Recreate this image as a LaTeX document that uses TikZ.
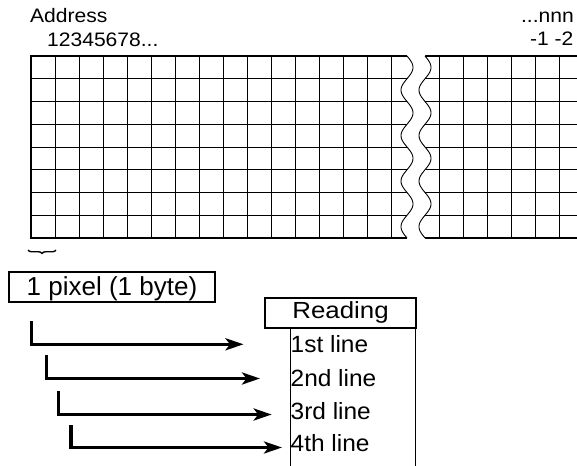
\documentclass[tikz,border=0pt]{standalone}
\usepackage{fontspec}
\setmainfont{Liberation Sans}
\newfontfamily\topfont[FakeStretch=1.08]{Liberation Sans}
\newfontfamily\rowfont[FakeStretch=1.04]{Liberation Sans}
\newfontfamily\readfont[FakeStretch=1.11]{Liberation Sans}
\usetikzlibrary{arrows.meta,decorations.pathreplacing}
\tikzset{
  thinline/.style={line width=0.9pt},
  border/.style={line width=2.4pt},
  wave/.style={line width=0.9pt},
  toplabel/.style={inner sep=0pt, font=\topfont\fontsize{19.5}{22}\selectfont},
  rowlabel/.style={inner sep=0pt, anchor=base west, font=\rowfont\fontsize{23.5}{27}\selectfont},
  framebox/.style={draw, line width=2pt, inner sep=0pt, anchor=base},
  flow/.style={line width=3.3pt, -{Stealth[length=18pt,width=12pt,inset=4.5pt]}},
}
\begin{document}
\begin{tikzpicture}[x=1pt,y=-1pt]
\useasboundingbox (0,0) rectangle (577,465);
\begin{scope}
\clip (0,0) rectangle (577,465);
% grid
\foreach \k in {1,...,22} {
  \draw[thinline] ({31+24*\k},56) -- ({31+24*\k},238);
}
\foreach \k in {1,...,7} {
  \draw[thinline] (31,{56+22.75*\k}) -- (577,{56+22.75*\k});
}
\draw[border] (577,56) -- (31,56) -- (31,238) -- (577,238);
% break gap
\fill[white] (407,48) -- plot[domain=56:238, samples=120, variable=\t] ({407+6*sin((\t-56)*7.912)},\t)
  -- (407,246) -- (425,246)
  -- plot[domain=238:56, samples=120, variable=\t] ({425+6*sin((\t-56)*7.912)},\t)
  -- (425,48) -- cycle;
\draw[wave] plot[domain=56:238, samples=120, variable=\t] ({407+6*sin((\t-56)*7.912)},\t);
\draw[wave] plot[domain=56:238, samples=120, variable=\t] ({425+6*sin((\t-56)*7.912)},\t);
\end{scope}
% top labels
\node[toplabel, anchor=base west] (addr) at (30,23) {Address};
\node[toplabel, anchor=base west] (nums) at (47,46.5) {12345678...};
\node[toplabel, anchor=base east] (nnn) at (574,23) {...nnn};
\node[toplabel, anchor=base east] (neg) at (573.5,46) {-1 -2};
% brace
\coordinate (br1) at (56,250);
\coordinate (br2) at (28,250);
\draw[line width=1.4pt, decorate, decoration={brace, amplitude=3.5pt}] (br1) -- (br2);
% pixel box
\node[framebox, minimum width=206pt, text height=23.5pt, text depth=6.5pt,
      font=\fontsize{26}{30}\selectfont] (pix) at (112,295.7) {1 pixel (1 byte)};
% reading box
\node[framebox, minimum width=151pt, text height=20.3pt, text depth=9.7pt,
      font=\readfont\fontsize{23.3}{27}\selectfont] (read) at (340.5,318.3) {Reading};
\coordinate (tl1) at (290.7,328);
\coordinate (tl2) at (290.7,466);
\coordinate (tr1) at (415.5,328);
\coordinate (tr2) at (415.5,466);
\draw[line width=1pt] (tl1) -- (tl2);
\draw[line width=1pt] (tr1) -- (tr2);
% row labels
\node[rowlabel] (r1) at (290.5,352) {1st line};
\node[rowlabel] (r2) at (290.5,386) {2nd line};
\node[rowlabel] (r3) at (290.5,419.5) {3rd line};
\node[rowlabel] (r4) at (290.5,451) {4th line};
% arrows
\coordinate (a1s) at (31.7,321);  \coordinate (a1c) at (31.7,344.3); \coordinate (a1e) at (243.5,344.3);
\coordinate (a2s) at (46.7,355);  \coordinate (a2c) at (46.7,378.5); \coordinate (a2e) at (260,378.5);
\coordinate (a3s) at (58.3,391);  \coordinate (a3c) at (58.3,414.5); \coordinate (a3e) at (271.7,414.5);
\coordinate (a4s) at (71,425);    \coordinate (a4c) at (71,447.5);   \coordinate (a4e) at (282,447.5);
\draw[flow] (a1s) -- (a1c) -- (a1e);
\draw[flow] (a2s) -- (a2c) -- (a2e);
\draw[flow] (a3s) -- (a3c) -- (a3e);
\draw[flow] (a4s) -- (a4c) -- (a4e);
\end{tikzpicture}
\end{document}
